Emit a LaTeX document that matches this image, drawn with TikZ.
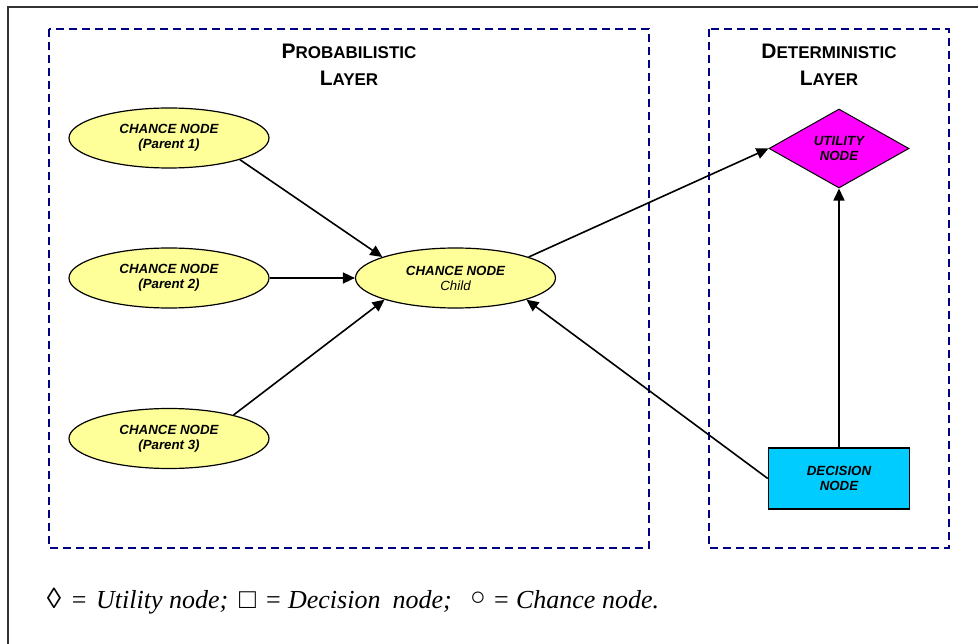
\documentclass[tikz,border=0pt]{standalone}
\usepackage{fontspec}
\setmainfont{Liberation Serif}
\setsansfont{Liberation Sans}
\usepackage{tikz}
\usetikzlibrary{arrows.meta}
\usetikzlibrary{shapes.geometric}
\usetikzlibrary{positioning}

\definecolor{chanceyellow}{HTML}{FFFF99}
\definecolor{utilitymagenta}{HTML}{FF00FF}
\definecolor{decisioncyan}{HTML}{00CCFF}
\definecolor{layernavy}{HTML}{000080}
\definecolor{framegray}{HTML}{333333}

\newcommand{\chancefont}{\sffamily\bfseries\itshape\fontsize{13.3}{15}\selectfont}
\newcommand{\layercaps}[2]{{\fontsize{21}{26.7}\selectfont #1}{\fontsize{17}{26.7}\selectfont #2}}
\newcommand{\legendpart}[2]{\makebox[#1][l]{#2}}
\newcommand{\legendeq}{\legendpart{21pt}{\hspace{-1pt}\upshape =}}

\tikzset{
  chance/.style={ellipse, draw, fill=chanceyellow, line width=1.2pt,
    minimum width=200pt, minimum height=60pt, inner sep=0pt,
    align=center, font=\chancefont},
  utility/.style={diamond, draw, fill=utilitymagenta, line width=1pt,
    aspect=1.77, minimum width=140pt, minimum height=79pt, inner sep=0pt,
    align=center, font=\chancefont},
  decision/.style={rectangle, draw, fill=decisioncyan, line width=1.5pt,
    minimum width=141pt, minimum height=61pt, inner sep=0pt,
    align=center, font=\chancefont},
  layerbox/.style={-, draw=layernavy, line width=2pt,
    dash pattern=on 8pt off 5pt},
  layertitle/.style={align=center, inner sep=0pt,
    font=\sffamily\bfseries\fontsize{21}{26.7}\selectfont},
  legendtext/.style={anchor=base west, inner sep=0pt,
    font=\itshape\fontsize{26}{30}\selectfont}
}

\begin{document}
\begin{tikzpicture}[->,>={Triangle[length=12pt,width=11pt]},
      x=1pt, y=-1pt,
      node distance=140pt,
      on grid,
      line width=1.6pt]

    \useasboundingbox (0,0) rectangle (978,644);
    \draw[-, framegray, line width=2pt] (978,7) -- (8,7) -- (8,644);

    % layers
    \draw[layerbox] (49,29) rectangle (649,548);
    \draw[layerbox] (709,29) rectangle (949,548);
    \node[layertitle]
      (ProbTitle) at (349,64.7) {\layercaps{P}{ROBABILISTIC}\\\layercaps{L}{AYER}};
    \node[layertitle]
      (DetTitle) at (829,64.7) {\layercaps{D}{ETERMINISTIC}\\\layercaps{L}{AYER}};

    \node[chance]
      (Parent1) at (169,138) {CHANCE NODE\\(Parent 1)};
    \node[chance]
      (Parent2) [below=140pt of Parent1] {CHANCE NODE\\(Parent 2)};
    \node[chance]
      (Parent3) [below=160.5pt of Parent2] {CHANCE NODE\\(Parent 3)};
    \node[chance]
      (Child) [right=286.5pt of Parent2] {CHANCE NODE\\\mdseries Child};
    \node[utility]
      (Utility) at (839,148.5) {UTILITY\\NODE};
    \node[decision]
      (Decision) [below=330pt of Utility] {DECISION\\NODE};

    \path[->]
      (Parent1.-17) edge (Child.164)
      (Parent2) edge (Child)
      (Parent3.20) edge (Child.197)
      (Child.16) edge (Utility.west)
      (Decision) edge (Utility)
      (Decision.west) edge (Child.-17);

    % legend
    \node[legendtext]
      (Legend) at (46,608) {%
        \legendpart{25pt}{\upshape\fontsize{29}{30}\selectfont ◊}%
        \legendpart{24.3pt}{\upshape =}%
        \legendpart{143pt}{Utility node;}%
        \legendpart{28pt}{\upshape\fontsize{28}{30}\selectfont □}%
        \legendeq
        \legendpart{182pt}{Decision\hspace{12pt}node;}%
        \legendpart{25pt}{\upshape\raisebox{3pt}{○}}%
        \legendeq
        Chance node.};

  \end{tikzpicture}
\end{document}
